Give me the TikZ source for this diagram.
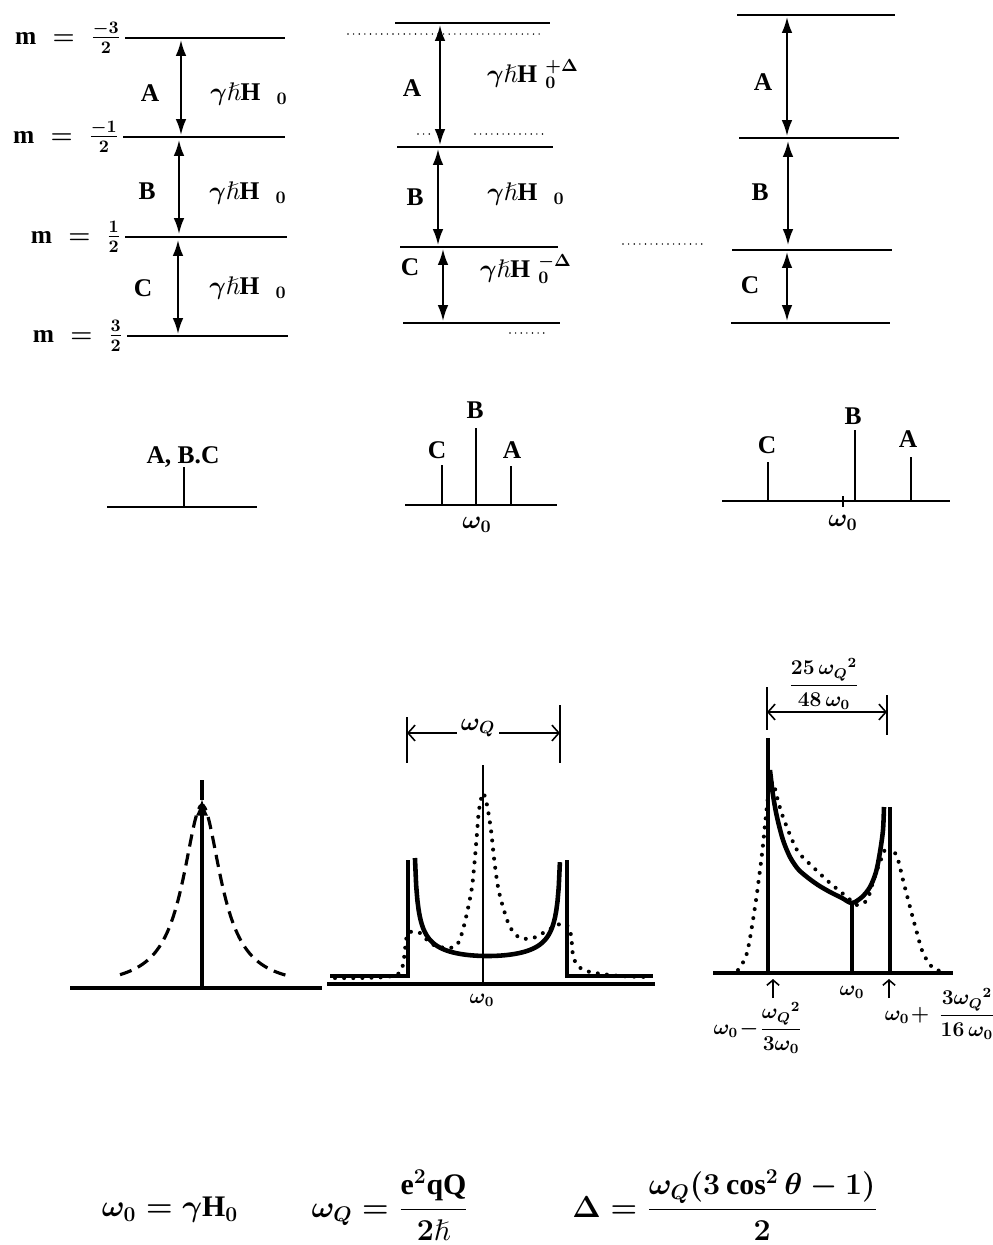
\documentclass[tikz,border=0pt]{standalone}
\usepackage{amsmath,amssymb}
\usepackage{fontspec}
\setmainfont{Liberation Serif}
\usetikzlibrary{arrows.meta}
\newcommand{\lbfont}{\fontsize{14.5}{17}\selectfont\bfseries\boldmath}
\newcommand{\smfont}{\fontsize{11.5}{13}\selectfont\bfseries\boldmath}
\newcommand{\frmfont}{\fontsize{17}{20}\selectfont\bfseries\boldmath}
\begin{document}
\begin{tikzpicture}[x=0.02cm, y=-0.02cm, every node/.style={font=\lbfont, inner sep=1pt},
  lvl/.style={line width=1.1pt},
  trans/.style={line width=1.1pt, {Latex[length=9pt,width=6pt]}-{Latex[length=9pt,width=6pt]}},
  fdot/.style={line width=0.9pt, line cap=round, dash pattern=on 0pt off 3.2pt},
  stick/.style={line width=1.1pt},
  axis/.style={line width=1.8pt},
  heavy/.style={line width=2.6pt},
  dotline/.style={line width=2.3pt, line cap=round, dash pattern=on 0pt off 5.2pt},
  dimarr/.style={line width=0.9pt, {Straight Barb[length=4pt,width=9pt]}-{Straight Barb[length=4pt,width=9pt]}},
  uparr/.style={line width=0.9pt, -{Straight Barb[length=3pt,width=7pt]}}]
\useasboundingbox (0,0) rectangle (993,1245);
% levels, Zeeman only
\draw[lvl] (125,38) -- (285,38); \draw[lvl] (123,137) -- (285,137); \draw[lvl] (125,237) -- (287,237); \draw[lvl] (127,336) -- (288,336);
\node[anchor=east] (m1) at (123,38) {$\mathrm{m}\;=\;\frac{-3}{2}$};
\node[anchor=east] (m2) at (121,137) {$\mathrm{m}\;=\;\frac{-1}{2}$};
\node[anchor=east] (m3) at (123,237) {$\mathrm{m}\;=\;\frac{1}{2}$};
\node[anchor=east] (m4) at (125,336) {$\mathrm{m}\;=\;\frac{3}{2}$};
\coordinate (tA1) at (181,40); \coordinate (bA1) at (181,135); \coordinate (tB1) at (179,140); \coordinate (bB1) at (179,234);
\coordinate (tC1) at (178,240); \coordinate (bC1) at (178,334);
\draw[trans] (tA1) -- (bA1); \draw[trans] (tB1) -- (bB1); \draw[trans] (tC1) -- (bC1);
\node (A1) at (150,93) {A}; \node (B1) at (147,191) {B}; \node (C1) at (143,288) {C};
\node (eA1) at (249,94) {$\gamma\hslash\mathrm{H}\;\;{}_0$}; \node (eB1) at (248,193) {$\gamma\hslash\mathrm{H}\;\;{}_0$}; \node (eC1) at (248,288) {$\gamma\hslash\mathrm{H}\;\;{}_0$};
% levels, first order shift
\draw[lvl] (395,23) -- (550,23); \draw[lvl] (397,147) -- (553,147); \draw[lvl] (400,247) -- (558,247); \draw[lvl] (403,323) -- (560,323);
\draw[fdot] (348,34) -- (540,34); \draw[fdot] (418,134) -- (432,134); \draw[fdot] (475,134) -- (548,134);
\draw[fdot] (510,333) -- (547,333); \draw[fdot] (623,244) -- (707,244);
\coordinate (tA2) at (440,25); \coordinate (bA2) at (440,145); \coordinate (tB2) at (438,149); \coordinate (bB2) at (438,245);
\coordinate (tC2) at (443,249); \coordinate (bC2) at (443,321);
\draw[trans] (tA2) -- (bA2); \draw[trans] (tB2) -- (bB2); \draw[trans] (tC2) -- (bC2);
\node (A2) at (412,88) {A}; \node (B2) at (415,197) {B}; \node (C2) at (410,267) {C};
\node (eA2) at (533,74) {$\gamma\hslash\mathrm{H}\;{}^{+\Delta}_{0}$}; \node (eB2) at (526,194) {$\gamma\hslash\mathrm{H}\;\;{}_0$}; \node (eC2) at (526,269) {$\gamma\hslash\mathrm{H}\;{}^{-\Delta}_{0}$};
% levels, second order
\draw[lvl] (737,15) -- (895,15); \draw[lvl] (739,138) -- (899,138); \draw[lvl] (732,250) -- (892,250); \draw[lvl] (731,323) -- (890,323);
\coordinate (tA3) at (787,17); \coordinate (bA3) at (787,136); \coordinate (tB3) at (788,141); \coordinate (bB3) at (788,245);
\coordinate (tC3) at (787,252); \coordinate (bC3) at (787,321);
\draw[trans] (tA3) -- (bA3); \draw[trans] (tB3) -- (bB3); \draw[trans] (tC3) -- (bC3);
\node (A3) at (763,82) {A}; \node (B3) at (760,192) {B}; \node (C3) at (750,285) {C};
% stick spectra
\draw[stick] (107,507) -- (257,507); \draw[stick] (184,507) -- (184,467);
\node (abc) at (183,457) {A, B.C};
\draw[stick] (405,505) -- (557,505); \draw[stick] (442,505) -- (442,465); \draw[stick] (476,505) -- (476,428); \draw[stick] (511,505) -- (511,466);
\node (sC2) at (437,450) {C}; \node (sB2) at (475,410) {B}; \node (sA2) at (512,450) {A}; \node (w2) at (477,525) {$\omega_0$};
\draw[stick] (722,501) -- (950,501); \draw[stick] (768,501) -- (768,462); \draw[stick] (855,501) -- (855,430); \draw[stick] (911,501) -- (911,457);
\draw[stick] (843,496) -- (843,507);
\node (sC3) at (767,445) {C}; \node (sB3) at (853,416) {B}; \node (sA3) at (908,439) {A}; \node (w3) at (843,523) {$\omega_0$};
% line shapes
\draw[axis] (70,988) -- (322,988);
\draw[line width=2pt, -{Latex[length=10pt,width=7pt]}] (202,988) -- (202,798); \draw[line width=2pt] (202,800) -- (202,780);
\draw[line width=1.8pt, dash pattern=on 7pt off 4pt] plot[domain=-82:88, samples=101] ({202+\x},{988-183/(1+(\x/23)^2)});
\draw[axis] (327,984) -- (655,984);
\draw[stick] (483,984) -- (483,765);
\draw[heavy] (330,976) -- (408,976) -- (408,860);
\draw[heavy] plot[domain=-0.975:0.975, samples=121] ({487.5+74.4*\x},{984-28/sqrt(1-\x*\x)});
\draw[heavy] (567,860) -- (567,976) -- (653,976);
\draw[dotline] plot[smooth] coordinates {(335,978) (360,978) (385,977) (398,974) (403,965) (405,950) (408,933) (420,933) (430,943) (440,947) (450,948) (457,945) (462,933) (467,913) (472,887) (475,857) (477,833) (479,810) (483,793) (487,805) (491,830) (494,858) (498,887) (503,907) (510,927) (520,938) (533,938) (543,933) (552,928) (560,924) (567,925) (571,935) (573,955) (578,966) (590,972) (620,976) (650,977)};
\coordinate (dl2) at (407,733); \coordinate (dr2) at (560,733);
\draw[line width=0.9pt] (407,717) -- (407,763); \draw[line width=0.9pt] (560,705) -- (560,763);
\draw[dimarr] (dl2) -- (dr2);
\node[fill=white, inner sep=2pt] (wq2) at (478,728) {$\omega_Q$};
\node[font=\smfont] (w4) at (482,1000) {$\omega_0$};
\draw[axis] (713,973) -- (953,973);
\draw[heavy] (768,973) -- (768,738);
\draw[heavy] plot[smooth] coordinates {(770,770) (773,795) (777,817) (783,840) (790,857) (798,869) (807,877) (818,885) (830,892) (842,898) (852,903) (862,897) (870,887) (876,872) (880,852) (883,830) (884,807)};
\draw[heavy] (890,807) -- (890,973);
\draw[line width=2pt] (852,973) -- (852,903);
\draw[dotline] plot[smooth] coordinates {(738,970) (747,953) (755,907) (760,870) (763,845) (766,815) (769,790) (773,782) (777,797) (783,817) (797,850) (813,867) (830,883) (847,897) (857,905) (867,900) (873,882) (880,862) (888,845) (897,857) (903,880) (910,907) (917,933) (923,953) (933,968) (945,972)};
\coordinate (dl3) at (767,712); \coordinate (dr3) at (887,712);
\draw[line width=0.9pt] (767,687) -- (767,730); \draw[line width=0.9pt] (887,695) -- (887,735);
\draw[dimarr] (dl3) -- (dr3);
\node[font=\smfont] (wd3) at (824,684) {$\dfrac{25\,{\omega_Q}^2}{48\,\omega_0}$};
\coordinate (ul3) at (773,998); \coordinate (ut3) at (773,979); \coordinate (ur3) at (889,998); \coordinate (urt3) at (889,979);
\draw[uparr] (ul3) -- (ut3); \draw[uparr] (ur3) -- (urt3);
\node[font=\smfont] (w5) at (852,992) {$\omega_0$};
\node[font=\smfont] (lo3) at (758,1028) {$\omega_0\!-\!\dfrac{{\omega_Q}^2}{3\omega_0}$};
\node[font=\smfont] (hi3) at (940,1014) {$\omega_0\!+\,\dfrac{3{\omega_Q}^2}{16\,\omega_0}$};
% definitions
\node[font=\frmfont] (f1) at (170,1210) {$\omega_0 = \gamma\mathrm{H}_0$};
\node[font=\frmfont] (f2) at (390,1205) {$\omega_Q = \dfrac{\mathrm{e}^2\mathrm{qQ}}{2\hslash}$};
\node[font=\frmfont] (f3) at (725,1205) {$\Delta = \dfrac{\omega_Q(3\cos^2\theta - 1)}{2}$};
\end{tikzpicture}
\end{document}
